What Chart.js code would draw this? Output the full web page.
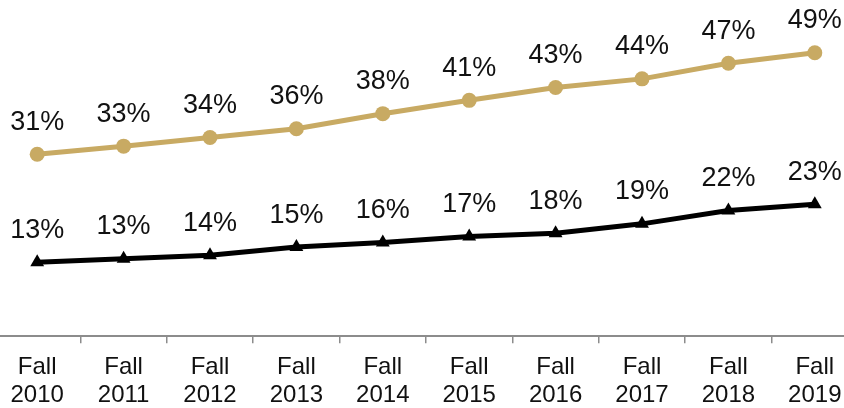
<!DOCTYPE html>
<html>
<head>
<meta charset="utf-8">
<script src="https://cdn.jsdelivr.net/npm/chart.js@4"></script>
<style>
  html, body { margin: 0; padding: 0; background: #ffffff; overflow: hidden; }
  body { width: 844px; height: 408px; position: relative; }
  #chart { position: absolute; left: -6px; top: 0; }
</style>
</head>
<body>
<canvas id="chart" width="864" height="420"></canvas>
<script>
// Datos (porcentaje por otono).
const terms = ['Fall', 'Fall', 'Fall', 'Fall', 'Fall', 'Fall', 'Fall', 'Fall', 'Fall', 'Fall'];
const years = ['2010', '2011', '2012', '2013', '2014', '2015', '2016', '2017', '2018', '2019'];
const goldValues = [31.4, 32.8, 34.3, 35.8, 38.4, 40.7, 42.9, 44.4, 47.1, 48.9];
const blackValues = [12.8, 13.4, 14.0, 15.4, 16.2, 17.2, 17.8, 19.4, 21.7, 22.8];

const categories = years.map((y, i) => [terms[i], y]);
const goldColor = '#c8aa63';
const textColor = '#111111';
const fontFamily = '"Liberation Sans", Arial, Helvetica, sans-serif';

// Etiquetas de valor encima de cada punto.
const valueLabelsPlugin = {
  id: 'valueLabels',
  afterDatasetsDraw(chart) {
    const ctx = chart.ctx;
    ctx.save();
    ctx.font = '27px ' + fontFamily;
    ctx.fillStyle = textColor;
    ctx.textAlign = 'center';
    ctx.textBaseline = 'middle';
    chart.data.datasets.forEach((ds, di) => {
      const meta = chart.getDatasetMeta(di);
      meta.data.forEach((pt, i) => {
        ctx.fillText(Math.round(ds.data[i]) + '%', pt.x, pt.y - 32);
      });
    });
    ctx.restore();
  }
};

new Chart(document.getElementById('chart'), {
  type: 'line',
  data: {
    labels: categories,
    datasets: [
      {
        data: goldValues,
        borderColor: goldColor,
        backgroundColor: goldColor,
        borderWidth: 5,
        pointStyle: 'circle',
        pointRadius: 7.5,
        pointBorderWidth: 0,
        tension: 0,
        clip: false
      },
      {
        data: blackValues,
        borderColor: '#000000',
        backgroundColor: '#000000',
        borderWidth: 5,
        pointStyle: 'triangle',
        pointRadius: 8,
        pointBorderWidth: 0,
        tension: 0,
        clip: false
      }
    ]
  },
  options: {
    responsive: false,
    animation: false,
    devicePixelRatio: 1,
    layout: { padding: 0, autoPadding: false },
    plugins: {
      legend: { display: false },
      tooltip: { enabled: false }
    },
    scales: {
      x: {
        offset: true,
        grid: {
          offset: true,
          drawOnChartArea: false,
          drawTicks: true,
          tickLength: 7,
          color: '#8c8c8c',
          lineWidth: 1.5
        },
        border: { display: true, color: '#8c8c8c', width: 2 },
        ticks: {
          color: textColor,
          font: { family: fontFamily, size: 24, lineHeight: 1.18 },
          padding: 10,
          maxRotation: 0,
          autoSkip: false
        }
      },
      y: {
        display: false,
        min: 0,
        max: 58
      }
    }
  },
  plugins: [valueLabelsPlugin]
});
</script>
</body>
</html>
